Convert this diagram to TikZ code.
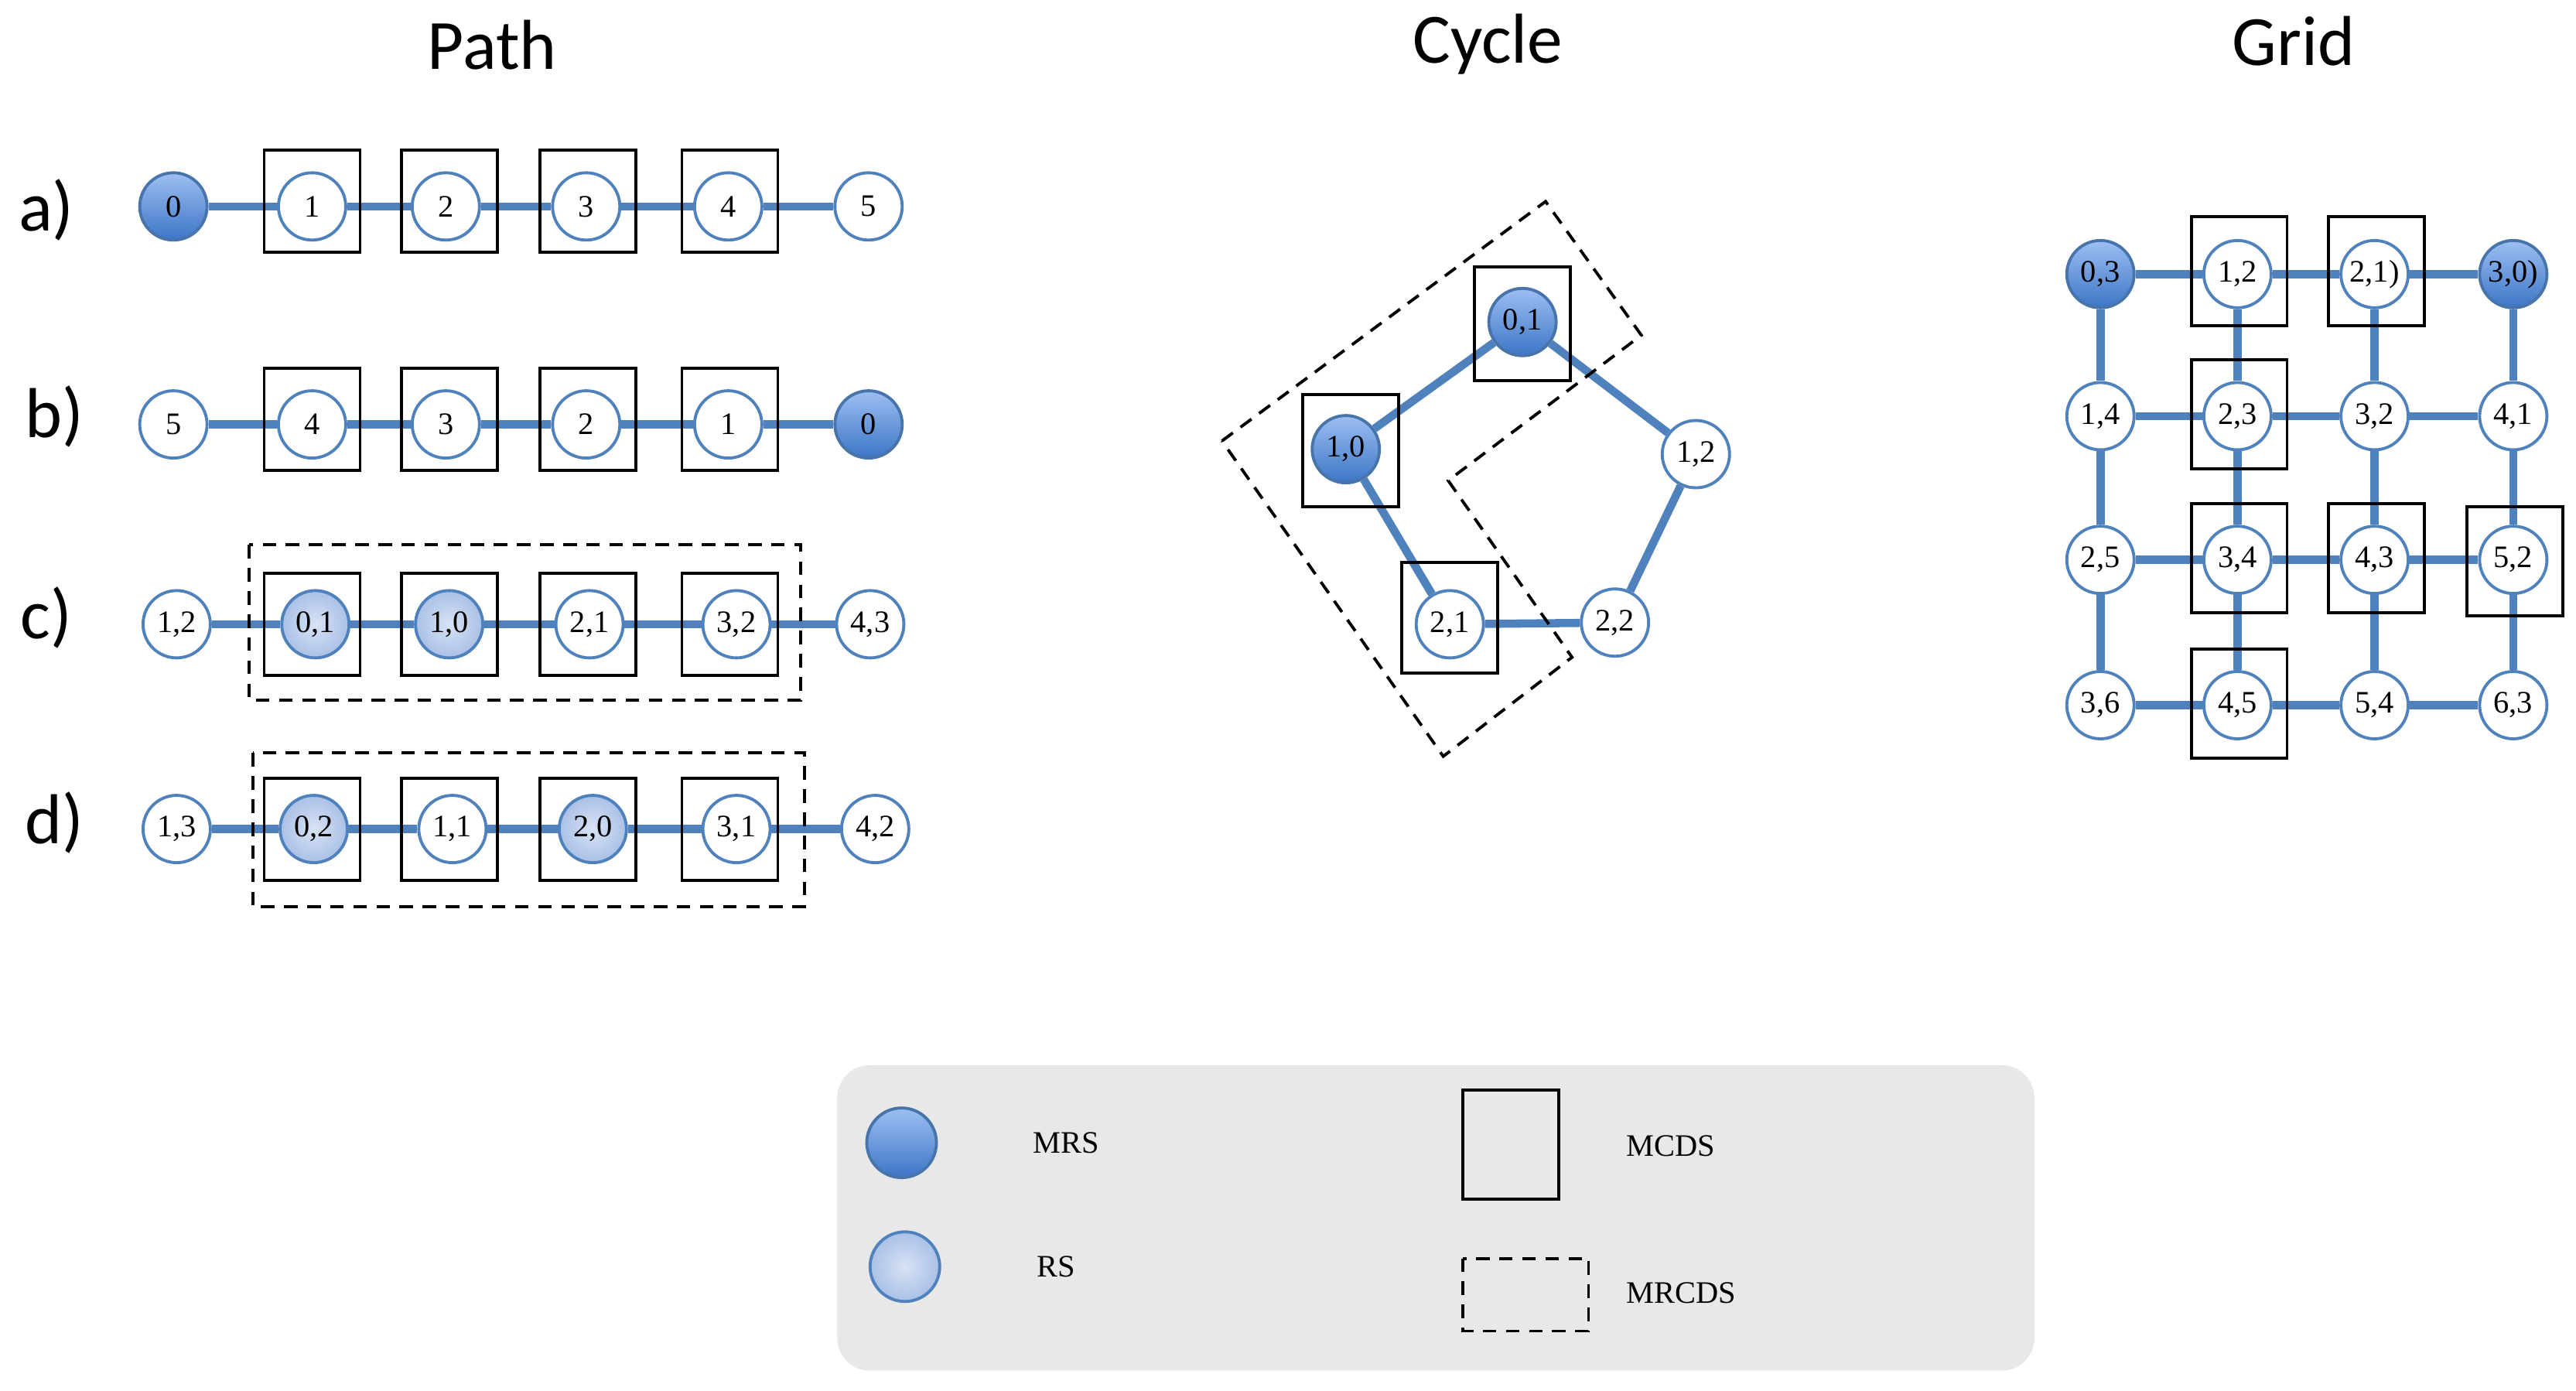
\documentclass[tikz,border=0pt]{standalone}
\usepackage{fontspec}
\setmainfont{Liberation Serif}
\newfontfamily\sansf{Carlito}
\begin{document}
\begin{tikzpicture}[x=0.02135cm,y=-0.02135cm,
  nd/.style={circle,draw=edgeb,line width=1.1pt,fill=white,minimum size=0.87cm,inner sep=0pt,font=\fontsize{11.5}{12}\selectfont},
  mrs/.style={nd,top color=mrstop,bottom color=mrsbot,draw=edgeb!90!black},
  rs/.style={nd,inner color=rsin,outer color=rsout},
  ed/.style={draw=edgeb,line width=3pt},
  bx/.style={draw=black,line width=1.1pt,minimum width=1.24cm,minimum height=1.32cm,inner sep=0pt},
  gbx/.style={bx,minimum height=1.41cm},
  dsh/.style={draw=black,line width=1.1pt,dash pattern=on 5pt off 3.5pt},
  ttl/.style={font=\sansf\fontsize{26}{28}\selectfont},
  lab/.style={font=\sansf\fontsize{26}{28}\selectfont},
  lg/.style={font=\fontsize{11.5}{12}\selectfont,anchor=west}]
\definecolor{edgeb}{HTML}{4F81BD}
\definecolor{mrstop}{HTML}{9DBEF2}
\definecolor{mrsbot}{HTML}{3C76C6}
\definecolor{rsin}{HTML}{D8E3F5}
\definecolor{rsout}{HTML}{A9C0E6}
\useasboundingbox (0,0) rectangle (1560,842);
% titles
\node[ttl] (tp) at (298,27) {Path};
\node[ttl] (tc) at (901,27) {Cycle};
\node[ttl] (tg) at (1389,25) {Grid};
\node[lab] (la) at (28,127) {a)};
\node[lab] (lb) at (33,252) {b)};
\node[lab] (lc) at (28,374) {c)};
\node[lab] (ld) at (33,498) {d)};
% row a
\node[mrs] (a0) at (105,125) {0};
\node[nd] (a1) at (189,125) {1};
\node[nd] (a2) at (270,125) {2};
\node[nd] (a3) at (355,125) {3};
\node[nd] (a4) at (441,125) {4};
\node[nd] (a5) at (526,125) {5};
\begin{scope}[on background layer/.style={}]
\end{scope}
% row b
\node[nd] (b0) at (105,257) {5};
\node[nd] (b1) at (189,257) {4};
\node[nd] (b2) at (270,257) {3};
\node[nd] (b3) at (355,257) {2};
\node[nd] (b4) at (441,257) {1};
\node[mrs] (b5) at (526,257) {0};
% row c
\node[nd] (c0) at (107,378) {1,2};
\node[rs] (c1) at (191,378) {0,1};
\node[rs] (c2) at (272,378) {1,0};
\node[nd] (c3) at (357,378) {2,1};
\node[nd] (c4) at (446,378) {3,2};
\node[nd] (c5) at (527,378) {4,3};
% row d
\node[nd] (d0) at (107,502) {1,3};
\node[rs] (d1) at (190,502) {0,2};
\node[nd] (d2) at (274,502) {1,1};
\node[rs] (d3) at (359,502) {2,0};
\node[nd] (d4) at (446,502) {3,1};
\node[nd] (d5) at (530,502) {4,2};
% path edges (drawn behind via shortening to borders)
\foreach \r in {a,b,c,d}{
  \draw[ed] (\r0) -- (\r1); \draw[ed] (\r1) -- (\r2); \draw[ed] (\r2) -- (\r3);
  \draw[ed] (\r3) -- (\r4); \draw[ed] (\r4) -- (\r5);}
% path boxes
\foreach \r/\y in {a/122,b/254,c/378,d/502}{
  \node[bx] (\r B1) at (189,\y) {};
  \node[bx] (\r B2) at (272,\y) {};
  \node[bx] (\r B3) at (356,\y) {};
  \node[bx] (\r B4) at (442,\y) {};}
\draw[dsh] (151,330) rectangle (485,424);
\draw[dsh] (153,456) rectangle (487,549);
% cycle
\node[mrs] (k01) at (922,195) {0,1};
\node[mrs] (k10) at (815,272) {1,0};
\node[nd] (k12) at (1027,275) {1,2};
\node[nd] (k21) at (878,378) {2,1};
\node[nd] (k22) at (978,377) {2,2};
\draw[ed] (k01) -- (k10); \draw[ed] (k10) -- (k21); \draw[ed] (k21) -- (k22);
\draw[ed] (k22) -- (k12); \draw[ed] (k12) -- (k01);
\node[bx,minimum height=1.47cm] (kB1) at (922,196) {};
\node[bx,minimum height=1.45cm] (kB2) at (818,273) {};
\node[bx,minimum height=1.43cm] (kB3) at (878,374) {};
\draw[dsh] (740,267) -- (936,122) -- (994,203) -- (877,291) -- (952,398) -- (874,458) -- cycle;
% grid
\foreach \i/\x in {0/1272,1/1355,2/1438,3/1522}{
  \foreach \j/\y in {0/166,1/252,2/339,3/427}{
    \coordinate (p\i\j) at (\x,\y);}}
\node[mrs] (g00) at (p00) {0,3};
\node[nd] (g10) at (p10) {1,2};
\node[nd] (g20) at (p20) {2,1)};
\node[mrs] (g30) at (p30) {3,0)};
\node[nd] (g01) at (p01) {1,4};
\node[nd] (g11) at (p11) {2,3};
\node[nd] (g21) at (p21) {3,2};
\node[nd] (g31) at (p31) {4,1};
\node[nd] (g02) at (p02) {2,5};
\node[nd] (g12) at (p12) {3,4};
\node[nd] (g22) at (p22) {4,3};
\node[nd] (g32) at (p32) {5,2};
\node[nd] (g03) at (p03) {3,6};
\node[nd] (g13) at (p13) {4,5};
\node[nd] (g23) at (p23) {5,4};
\node[nd] (g33) at (p33) {6,3};
\foreach \j in {0,1,2,3}{
  \draw[ed] (g0\j) -- (g1\j); \draw[ed] (g1\j) -- (g2\j); \draw[ed] (g2\j) -- (g3\j);
  \draw[ed] (g\j0) -- (g\j1); \draw[ed] (g\j1) -- (g\j2); \draw[ed] (g\j2) -- (g\j3);}
\node[gbx] (gB1) at (1356,164) {};
\node[gbx] (gB2) at (1439,164) {};
\node[gbx] (gB3) at (1356,251) {};
\node[gbx] (gB4) at (1356,338) {};
\node[gbx] (gB5) at (1439,338) {};
\node[gbx] (gB6) at (1523,340) {};
\node[gbx] (gB7) at (1356,426) {};
% legend
\fill[black!9,rounded corners=12pt] (507,645) rectangle (1232,830);
\node[mrs,minimum size=0.9cm] (lmrs) at (546,692) {};
\node[lg] (tmrs) at (620,692) {MRS};
\node[rs,minimum size=0.9cm] (lrs) at (548,767) {};
\node[lg] (trs) at (622,767) {RS};
\node[bx,minimum width=1.24cm,minimum height=1.41cm] (lmc) at (915,693) {};
\node[lg] (tmc) at (979,694) {MCDS};
\draw[dsh] (886,762) rectangle (962,806);
\node[lg] (tmr) at (979,783) {MRCDS};
\end{tikzpicture}
\end{document}
